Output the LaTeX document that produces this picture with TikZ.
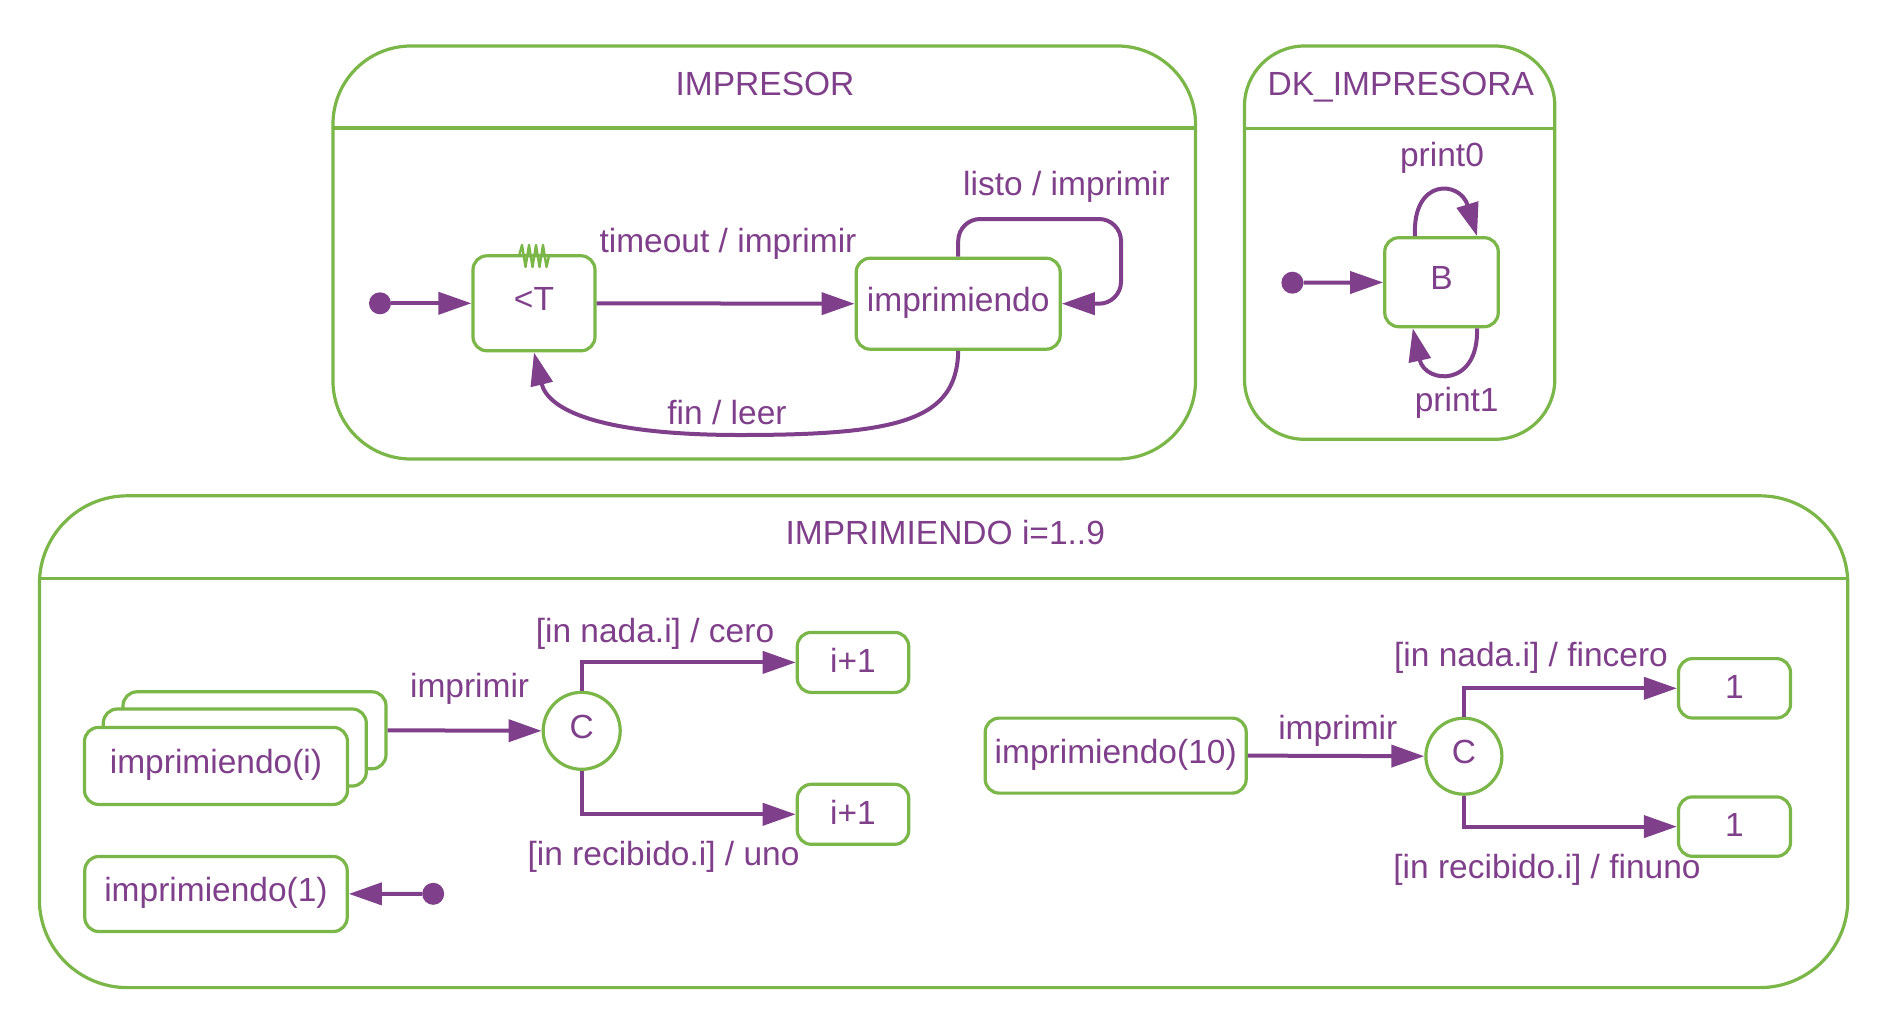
\documentclass[tikz,border=0pt]{standalone}
\usepackage{fontspec}
\setmainfont{Liberation Sans}
\usetikzlibrary{arrows.meta}
\definecolor{gr}{HTML}{7AB648}
\definecolor{pu}{HTML}{7F3F8A}
\tikzset{
  lbl/.style={anchor=base, inner sep=0pt, text=pu, font=\fontsize{33.5pt}{40pt}\selectfont},
  box/.style={draw=gr, line width=3.2pt, rounded corners=14pt, fill=white, inner sep=0pt,
    text=pu, font=\fontsize{33.5pt}{40pt}\selectfont, text height=23pt, text depth=8pt},
  smallbox/.style={box, text height=20pt, text depth=0pt},
  choice/.style={draw=gr, line width=3.2pt, circle, fill=white, inner sep=0pt, minimum size=77pt,
    text=pu, font=\fontsize{33.5pt}{40pt}\selectfont, text height=23pt, text depth=8pt},
  initdot/.style={circle, fill=pu, inner sep=0pt, minimum size=22pt},
  container/.style={draw=gr, line width=3.2pt},
  arr/.style={draw=pu, line width=4pt, -{Triangle[length=33pt,width=22pt]}},
}
\begin{document}
\begin{tikzpicture}[x=1pt,y=-1pt]
\useasboundingbox (0,0) rectangle (1898,1029);
% containers
\draw[container, rounded corners=78pt] (333,46) rectangle (1195.5,459);
\draw[container] (333,128) -- (1195.5,128);
\node[lbl] (tImpresor) at (765,95) {IMPRESOR};
\draw[container, rounded corners=60pt] (1244.5,46) rectangle (1554.8,439.3);
\draw[container] (1244.5,128.3) -- (1554.8,128.3);
\node[lbl] (tDk) at (1400.8,95) {DK\_IMPRESORA};
\draw[container, rounded corners=88pt] (39.4,495.8) rectangle (1847.8,987.6);
\draw[container] (39.4,578.7) -- (1847.8,578.7);
\node[lbl] (tImprimiendo) at (945.3,544.5) {IMPRIMIENDO i=1..9};

% IMPRESOR
\node[box, minimum width=122pt, minimum height=95pt] (T) at (534,303.3) {<T};
\draw[gr, line width=2.4pt, line join=round] (519,256) -- (522,245) -- (525.5,267) -- (529,245) -- (532.5,267) -- (536,245) -- (539.5,267) -- (543,245) -- (546.5,267) -- (549,256);
\node[box, minimum width=204pt, minimum height=91pt] (imp) at (958.2,303.7) {imprimiendo};
\node[initdot] (d1) at (380,303.3) {};
\draw[arr] (d1) -- (T);
\draw[arr] (T.east) -- (imp.west);
\node[lbl] (lTimeout) at (728,252.5) {timeout / imprimir};
\draw[arr, rounded corners=22pt] (imp.north) |- (1121,219) |- (imp.east);
\node[lbl] (lListo) at (1066.5,195) {listo / imprimir};
\draw[arr] (imp.south) .. controls (957,420) and (900,435) .. (740,435)
  .. controls (600,435) and (548,410) .. (T.south);
\node[lbl] (lFin) at (727,424) {fin / leer};

% DK_IMPRESORA
\node[box, minimum width=113.5pt, minimum height=89pt] (B) at (1441.5,282.2) {B};
\node[initdot] (d2) at (1292.4,282.7) {};
\draw[arr] (d2) -- (B);
\draw[arr] ([xshift=-26.5pt]B.north) .. controls (1412,178) and (1460,180) .. ([xshift=35.5pt]B.north);
\node[lbl] (lP0) at (1442,166.5) {print0};
\draw[arr] ([xshift=35.5pt]B.south) .. controls (1479,388) and (1425,384) .. ([xshift=-28.7pt]B.south);
\node[lbl] (lP1) at (1456.7,411.5) {print1};

% IMPRIMIENDO left
\node[box, minimum width=263pt, minimum height=77pt] (s3) at (254.5,730.3) {};
\node[box, minimum width=263pt, minimum height=77pt] (s2) at (234.8,747.5) {};
\node[box, minimum width=263pt, minimum height=77pt] (s1) at (216,765.9) {imprimiendo(i)};
\node[choice] (C1) at (581.7,730.8) {C};
\draw[arr] (s3.east) -- (C1.west);
\node[lbl] (lImp1) at (469.6,697.5) {imprimir};
\node[smallbox, minimum width=111.4pt, minimum height=60pt] (ia) at (853,662.4) {i+1};
\node[smallbox, minimum width=111.4pt, minimum height=60pt] (ib) at (853,814.3) {i+1};
\draw[arr] (C1.north) |- (ia.west);
\draw[arr] (C1.south) |- (ib.west);
\node[lbl] (lNada1) at (655,642.3) {[in nada.i] / cero};
\node[lbl] (lRec1) at (663.5,865) {[in recibido.i] / uno};
\node[box, minimum width=262.4pt, minimum height=75pt] (imp1) at (216,894) {imprimiendo(1)};
\node[initdot] (d3) at (433.2,893.8) {};
\draw[arr] (d3) -- (imp1);

% IMPRIMIENDO right
\node[box, minimum width=261pt, minimum height=75pt] (imp10) at (1115.7,755.6) {imprimiendo(10)};
\node[choice, minimum size=76pt] (C2) at (1463.9,756.2) {C};
\draw[arr] (imp10.east) -- (C2.west);
\node[lbl] (lImp2) at (1337.8,739.7) {imprimir};
\node[smallbox, minimum width=112pt, minimum height=59.4pt] (oa) at (1734.5,688.3) {1};
\node[smallbox, minimum width=112pt, minimum height=59.4pt] (ob) at (1734.5,826.6) {1};
\draw[arr] (C2.north) |- (oa.west);
\draw[arr] (C2.south) |- (ob.west);
\node[lbl] (lNada2) at (1531,666.2) {[in nada.i] / fincero};
\node[lbl] (lRec2) at (1547,878) {[in recibido.i] / finuno};
\end{tikzpicture}
\end{document}
